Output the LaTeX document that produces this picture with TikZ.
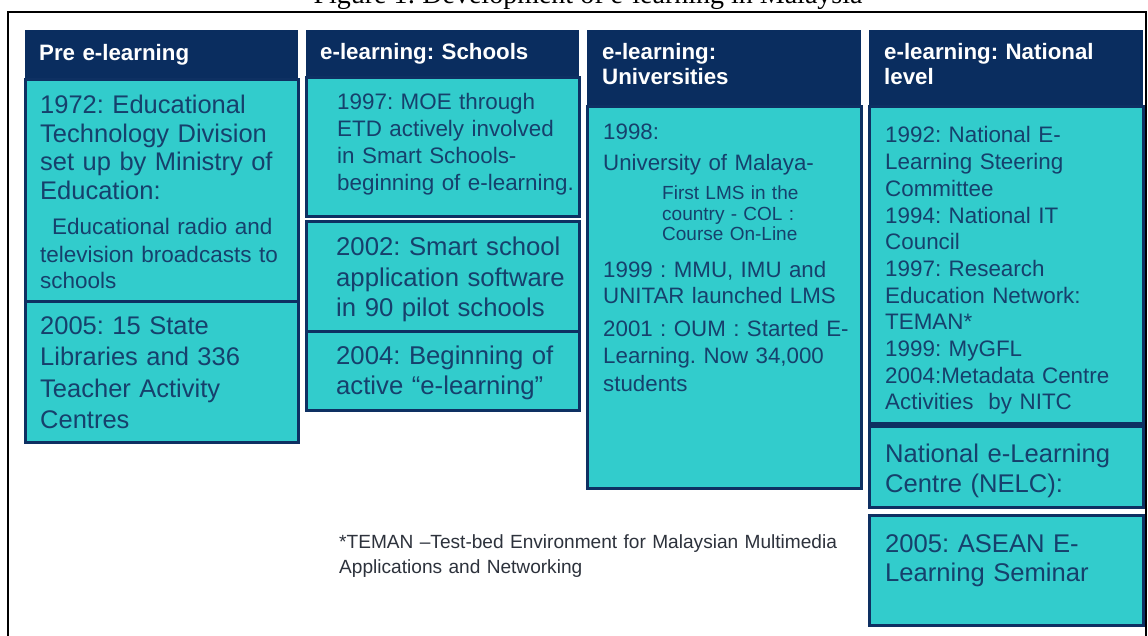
\documentclass[tikz,border=0pt]{standalone}
\usepackage{fontspec}
\setmainfont{Liberation Sans}
\newfontfamily\captionserif{Liberation Serif}
\definecolor{hdrblue}{RGB}{10,45,95}
\definecolor{edgeblue}{RGB}{14,48,98}
\definecolor{panelcyan}{RGB}{50,204,204}
\definecolor{inkblue}{RGB}{22,64,108}
\definecolor{notegray}{RGB}{45,50,60}
\frenchspacing
\begin{document}
\begin{tikzpicture}[x=1pt,y=-1pt,
  hdr/.style={fill=hdrblue,draw=none},
  panel/.style={fill=panelcyan,draw=edgeblue,line width=3pt},
  hdrtext/.style={anchor=base west,inner sep=0pt,text=white,text width=270pt,align=left,
    font=\fontsize{22.3}{25}\selectfont\bfseries},
  entry/.style 2 args={anchor=base west,inner sep=0pt,text=inkblue,text width=300pt,align=left,
    font=\fontsize{#1}{#2}\selectfont},
  note/.style={anchor=base west,inner sep=0pt,text=notegray,text width=560pt,align=left,
    font=\fontsize{19.1}{25}\selectfont}]
\useasboundingbox (0,0) rectangle (1148,636);
\clip (0,0) rectangle (1148,636);
\fill[white] (0,0) rectangle (1148,636);

% caption line above the frame
\node[anchor=base,inner sep=0pt,font=\captionserif\fontsize{28}{32}\selectfont]
  (caption) at (588,4) {Figure 1: Development of e-learning in Malaysia};

% outer frame
\draw[line width=2pt] (8,640) -- (8,12) -- (1146,12) -- (1146,640);

% column 1: pre e-learning
\fill[hdr] (25,30) rectangle (298,80);
\draw[panel] (25,80) rectangle (298,301);
\draw[panel] (25,301) rectangle (298,442);
\node[hdrtext] (h1) at (39,61) {Pre e-learning};
\node[entry={25.5}{28.5}] (a1) at (40,114)
  {1972: Educational\\Technology Division\\set up by Ministry of\\Education:};
\node[entry={22.5}{26}] (a2) at (52,235) {Educational radio and};
\node[entry={22.5}{25.5}] (a3) at (40,263) {television broadcasts to\\schools};
\node[entry={25.5}{31.5}] (a4) at (40,334)
  {2005: 15 State\\Libraries and 336\\Teacher Activity\\Centres};

% column 2: schools
\fill[hdr] (306,30) rectangle (579,78);
\draw[panel] (306,78) rectangle (579,217);
\draw[panel] (306,222) rectangle (579,331);
\draw[panel] (306,331) rectangle (579,410);
\node[hdrtext] (h2) at (320,60) {e-learning: Schools};
\node[entry={22.4}{27}] (b1) at (337,110)
  {1997: MOE through\\ETD actively involved\\in Smart Schools-\\beginning of e-learning.};
\node[entry={25.7}{30.5}] (b2) at (336,256)
  {2002: Smart school\\application software\\in 90 pilot schools};
\node[entry={25.7}{30}] (b3) at (336,364)
  {2004: Beginning of\\active “e-learning”};

% column 3: universities
\fill[hdr] (587,30) rectangle (861,107);
\draw[panel] (587,107) rectangle (861,488);
\node[hdrtext] (h3) at (602,60) {e-learning:\\Universities};
\node[entry={22.3}{26}] (c1) at (603,140) {1998:};
\node[entry={22.3}{26}] (c2) at (603,171) {University of Malaya-};
\node[entry={19}{20.5}] (c3) at (662,200) {First LMS in the\\country - COL :\\Course On-Line};
\node[entry={22.3}{25.5}] (c4) at (603,278) {1999 : MMU, IMU and\\UNITAR launched LMS};
\node[entry={22.3}{27.5}] (c5) at (603,336)
  {2001 : OUM : Started E-\\Learning. Now 34,000\\students};

% column 4: national level
\fill[hdr] (869,30) rectangle (1143,107);
\draw[panel] (869,107) rectangle (1143,423);
\draw[panel] (869,426) rectangle (1143,507);
\draw[panel] (869,515) rectangle (1143,625);
\node[hdrtext] (h4) at (884,60) {e-learning: National\\level};
\node[entry={22.4}{26.7}] (d1) at (885,143)
  {1992: National E-\\Learning Steering\\Committee\\1994: National IT\\Council\\1997: Research\\Education Network:\\TEMAN*\\1999: MyGFL\\2004:Metadata Centre\\Activities \ by NITC};
\node[entry={25.6}{30}] (d2) at (885,462) {National e-Learning\\Centre (NELC):};
\node[entry={25.6}{29}] (d3) at (885,552) {2005: ASEAN E-\\Learning Seminar};

% footnote
\node[note] (fn) at (339,548)
  {*TEMAN –Test-bed Environment for Malaysian Multimedia\\Applications and Networking};
\end{tikzpicture}
\end{document}
